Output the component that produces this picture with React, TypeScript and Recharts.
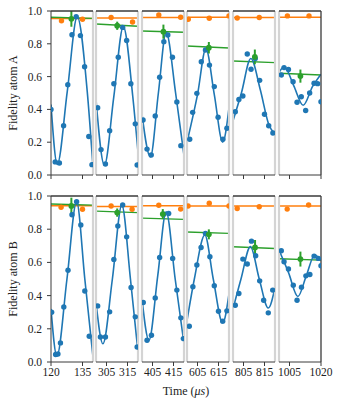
import React from 'react';
import { ComposedChart, Line, Scatter, XAxis, YAxis, ReferenceLine, ErrorBar } from 'recharts';

// time windows (μs) shown by the six broken-axis panels
const windows = [[120, 140], [300, 320], [400, 420], [600, 620], [800, 820], [1000, 1020]];
const xTicks = [[120, 135], [305, 315], [405, 415], [605, 615], [805, 815], [1005, 1020]];
const yTicks = [0, 0.2, 0.4, 0.6, 0.8, 1.0];

// atom A: measured points [t, fidelity]
const blueA = [
  [[120, 0.40], [122, 0.08], [124, 0.073], [126, 0.30], [128, 0.55], [130, 0.855], [132, 0.965], [134, 0.85], [136, 0.66], [138, 0.235], [139.5, 0.063]],
  [[300.8, 0.41], [302.4, 0.155], [304.5, 0.067], [306.5, 0.27], [308.5, 0.556], [310.6, 0.718], [312.7, 0.9], [314.6, 0.82], [316.6, 0.556], [318.7, 0.312], [319.6, 0.061]],
  [[400.5, 0.335], [402.4, 0.158], [404.4, 0.122], [406.3, 0.36], [408.4, 0.596], [410.4, 0.813], [412.3, 0.854], [414.5, 0.718], [416.6, 0.445], [418.5, 0.179]],
  [[601.3, 0.218], [602.7, 0.382], [604.7, 0.498], [606.8, 0.691], [608.8, 0.762], [610.7, 0.67], [613, 0.539], [614.8, 0.352], [617.1, 0.218], [619, 0.285]],
  [[801.1, 0.386], [802.8, 0.46], [804.7, 0.482], [806.8, 0.738], [808.6, 0.645], [810.6, 0.71], [812.7, 0.577], [815, 0.37], [817, 0.3], [819, 0.256]],
  [[1001.1, 0.61], [1002.4, 0.655], [1004.5, 0.643], [1006.7, 0.569], [1008.6, 0.444], [1010.6, 0.477], [1012.7, 0.393], [1014.6, 0.5], [1016.7, 0.559], [1018.4, 0.557], [1020, 0.447]],
];
// atom A: fit curve
const fitA = [
  [[120, 0.43], [123, 0.065], [127.75, 0.51], [132.5, 0.965], [137.25, 0.51], [140, 0.05]],
  [[300, 0.46], [304, 0.06], [308.5, 0.48], [313, 0.905], [317.5, 0.48], [320, 0.14]],
  [[400, 0.37], [404, 0.11], [407.8, 0.5], [411.5, 0.87], [416, 0.5], [420, 0.12]],
  [[600, 0.2], [605, 0.49], [609, 0.77], [613, 0.49], [617, 0.2], [620, 0.41]],
  [[800, 0.33], [804, 0.5], [808.5, 0.71], [813, 0.52], [817, 0.31], [820, 0.25]],
  [[1000, 0.625], [1002.5, 0.66], [1007, 0.545], [1011.5, 0.425], [1016, 0.54], [1020, 0.615]],
];
const orangeA = [
  [[125, 0.94], [135, 0.95]],
  [[307.2, 0.96], [317.4, 0.933]],
  [[408, 0.976], [418.4, 0.962]],
  [[600.6, 0.95], [610.6, 0.956], [620, 0.97]],
  [[802, 0.957], [812.5, 0.96]],
  [[1004, 0.97], [1014.3, 0.97]],
];
const orangeLevelA = [0.955, 0.958, 0.96, 0.962, 0.96, 0.962];
// [t, value, error]
const greenA = [[129.7, 0.952, 0.048], [310.1, 0.91, 0.025], [410.2, 0.874, 0.043], [610.4, 0.776, 0.035], [810.4, 0.72, 0.045], [1010.2, 0.603, 0.04]];
// [value at window start, value at window end]
const greenLineA = [[0.962, 0.955], [0.921, 0.907], [0.878, 0.87], [0.787, 0.774], [0.695, 0.685], [0.62, 0.61]];

// atom B
const blueB = [
  [[120.3, 0.30], [122.2, 0.045], [123.3, 0.048], [124.5, 0.115], [126.1, 0.332], [128.1, 0.553], [130, 0.887], [132.2, 0.965], [134.2, 0.825], [136.1, 0.428], [138.2, 0.155]],
  [[300.8, 0.338], [302.1, 0.151], [304.5, 0.151], [306.5, 0.302], [308.5, 0.618], [310.4, 0.819], [312.7, 0.946], [314.6, 0.754], [316.7, 0.449], [318.7, 0.272], [319.6, 0.09]],
  [[400.6, 0.358], [402.4, 0.131], [404.5, 0.161], [406.3, 0.386], [408.4, 0.63], [410.4, 0.89], [412.7, 0.895], [414.6, 0.624], [416.6, 0.433], [418.5, 0.266], [419.7, 0.141]],
  [[601.1, 0.215], [602.8, 0.453], [604.7, 0.584], [606.7, 0.69], [608.8, 0.775], [610.9, 0.634], [613, 0.459], [615, 0.306], [617, 0.246], [619, 0.308]],
  [[801.1, 0.342], [802.8, 0.413], [804.7, 0.62], [806.8, 0.59], [808.8, 0.728], [810.8, 0.64], [812.7, 0.489], [814.6, 0.372], [816.8, 0.296], [818.9, 0.433]],
  [[1001.1, 0.67], [1002.4, 0.604], [1004.5, 0.56], [1006.8, 0.463], [1008.6, 0.372], [1010.7, 0.451], [1012.8, 0.519], [1014.7, 0.527], [1016.7, 0.638], [1018.7, 0.624], [1020, 0.58]],
];
const fitB = [
  [[120, 0.32], [122.8, 0.035], [127.6, 0.5], [132.2, 0.965], [136.1, 0.5], [140, 0.03]],
  [[300, 0.36], [303.3, 0.11], [307.8, 0.5], [312.3, 0.945], [316.4, 0.5], [320, 0.06]],
  [[400, 0.38], [403.3, 0.13], [407.5, 0.52], [411.5, 0.905], [415.8, 0.5], [420, 0.11]],
  [[600, 0.25], [603.5, 0.5], [608.5, 0.765], [612.5, 0.5], [617, 0.235], [620, 0.41]],
  [[800, 0.32], [803.8, 0.5], [808.3, 0.695], [812.5, 0.5], [816.8, 0.325], [820, 0.45]],
  [[1000, 0.675], [1004.5, 0.54], [1009, 0.395], [1013, 0.52], [1017, 0.645], [1020, 0.615]],
];
const orangeB = [
  [[124.8, 0.932], [135, 0.92]],
  [[307.2, 0.94], [317.2, 0.92]],
  [[408, 0.944], [418.4, 0.921]],
  [[600.5, 0.94], [610.6, 0.956], [620, 0.94]],
  [[802, 0.925], [812.5, 0.935]],
  [[1003.9, 0.921], [1014.1, 0.946]],
];
const orangeLevelB = [0.942, 0.937, 0.941, 0.94, 0.94, 0.94];
const greenB = [[129.7, 0.94, 0.05], [310.1, 0.9, 0.025], [409.9, 0.891, 0.03], [610.4, 0.769, 0.03], [810.5, 0.69, 0.045], [1010.2, 0.62, 0.045]];
const greenLineB = [[0.952, 0.945], [0.909, 0.9], [0.867, 0.859], [0.783, 0.775], [0.694, 0.684], [0.622, 0.614]];

const BLUE = '#1f77b4';
const ORANGE = '#ff7f0e';
const GREEN = '#2ca02c';
const SPINE = '#3a3a3a';
const EDGE = '#d4d4d4';
const FONT = 'Liberation Serif';

const panelLeft = [51, 96, 142, 187, 233, 279];
const PW = 42;
const rows = [
  { top: 11, h: 164, blue: blueA, fit: fitA, orange: orangeA, level: orangeLevelA, green: greenA, gline: greenLineA, labels: false },
  { top: 196, h: 166, blue: blueB, fit: fitB, orange: orangeB, level: orangeLevelB, green: greenB, gline: greenLineB, labels: true },
];

const pts = (arr: number[][]) => arr.map(([x, y]) => ({ x, y }));

const dot = (color: string, r: number) => (p: any) => <circle cx={p.cx} cy={p.cy} r={r} fill={color} />;

const Panel = ({ row, i }: { row: any; i: number }) => {
  const first = i === 0;
  const last = i === 5;
  const [x0, x1] = windows[i];
  const padT = 9;
  const padS = 14;
  const yw = first ? 51 : 0;
  const left = first ? 0 : padS;
  const width = yw + left + PW + padS;
  const height = padT + row.h + 24;
  const [gx, gy, ge] = row.green[i];
  const [gl0, gl1] = row.gline[i];
  return (
    <div style={{ position: 'absolute', left: panelLeft[i] - yw - left, top: row.top - padT }}>
      <ComposedChart width={width} height={height} margin={{ top: padT, right: padS, bottom: 0, left }}>
        <XAxis
          type="number"
          dataKey="x"
          domain={[x0, x1]}
          allowDataOverflow
          ticks={xTicks[i]}
          interval={0}
          height={24}
          stroke={SPINE}
          tickSize={4}
          tickMargin={2}
          tickFormatter={(v) => (row.labels ? String(v) : '')}
          tick={{ fontFamily: FONT, fontSize: 11.5, fill: '#222' }}
        />
        <YAxis
          type="number"
          dataKey="y"
          domain={[0, 1]}
          allowDataOverflow
          hide={!first}
          width={yw}
          ticks={yTicks}
          interval={0}
          stroke={SPINE}
          tickSize={4}
          tickMargin={5}
          tickFormatter={(v) => v.toFixed(1)}
          tick={{ fontFamily: FONT, fontSize: 11.5, fill: '#222' }}
        />
        <Line data={[{ x: x0, y: row.level[i] }, { x: x1, y: row.level[i] }]} dataKey="y" stroke={ORANGE} strokeWidth={1.5} dot={false} isAnimationActive={false} />
        <Scatter data={pts(row.orange[i])} dataKey="y" shape={dot(ORANGE, 2.7)} isAnimationActive={false} />
        <Line data={[{ x: x0, y: gl0 }, { x: x1, y: gl1 }]} dataKey="y" stroke={GREEN} strokeWidth={1.4} dot={false} isAnimationActive={false} />
        <Line data={pts(row.fit[i])} dataKey="y" type="monotone" stroke={BLUE} strokeWidth={1.6} dot={false} isAnimationActive={false} />
        <Scatter data={pts(row.blue[i])} dataKey="y" shape={dot(BLUE, 2.7)} isAnimationActive={false} />
        <Scatter data={[{ x: gx, y: gy, err: ge }]} dataKey="y" shape={dot(GREEN, 2.9)} isAnimationActive={false}>
          <ErrorBar dataKey="err" direction="y" width={0} stroke={GREEN} strokeWidth={2} />
        </Scatter>
        {!first && <ReferenceLine x={x0} stroke={EDGE} strokeWidth={2.2} />}
        {!last && <ReferenceLine x={x1} stroke={EDGE} strokeWidth={2.2} />}
        {last && <ReferenceLine x={x1} stroke={SPINE} strokeWidth={1.3} />}
        <ReferenceLine y={1} stroke={SPINE} strokeWidth={1.6} />
      </ComposedChart>
    </div>
  );
};

export default function App() {
  return (
    <div style={{ position: 'absolute', left: 0, top: 0, width: 338, height: 400, background: '#fff', fontFamily: FONT }}>
      {rows.map((row, r) => windows.map((_, i) => <Panel key={`${r}-${i}`} row={row} i={i} />))}
      <svg width={338} height={400} style={{ position: 'absolute', left: 0, top: 0, pointerEvents: 'none' }}>
        <text x={13} y={93} transform="rotate(-90 13 93)" textAnchor="middle" dominantBaseline="central" fontFamily={FONT} fontSize={12} fill="#222">
          Fidelity atom A
        </text>
        <text x={13} y={279} transform="rotate(-90 13 279)" textAnchor="middle" dominantBaseline="central" fontFamily={FONT} fontSize={12} fill="#222">
          Fidelity atom B
        </text>
        <text x={186} y={391} textAnchor="middle" dominantBaseline="central" fontFamily={FONT} fontSize={12} fill="#222">
          Time (<tspan fontStyle="italic">μs</tspan>)
        </text>
      </svg>
    </div>
  );
}
